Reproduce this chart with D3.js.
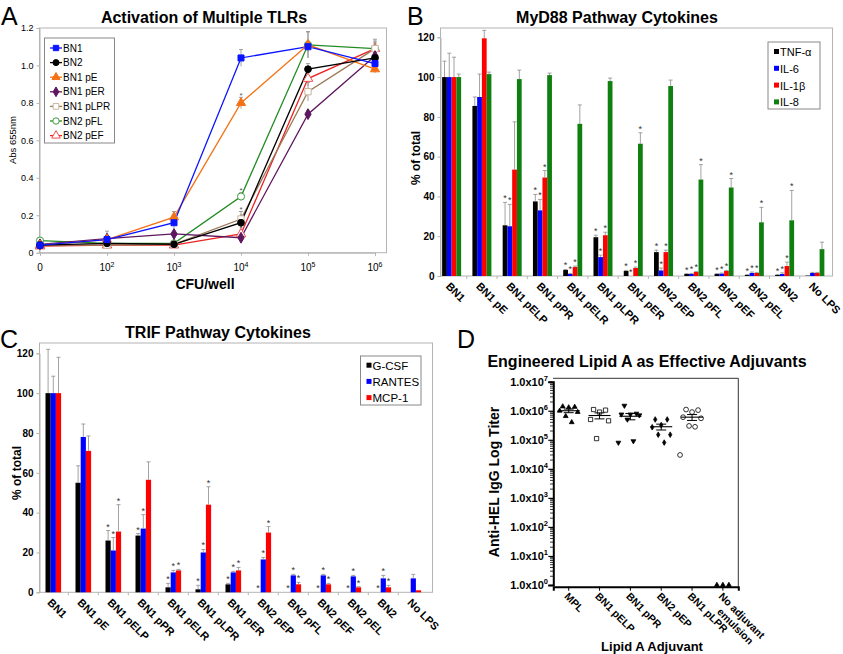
<!DOCTYPE html>
<html><head><meta charset="utf-8">
<script src="https://cdn.jsdelivr.net/npm/d3@7/dist/d3.min.js"></script>
<style>
body{margin:0;background:#fff;}
svg text{font-family:"Liberation Sans",Arial,Helvetica,sans-serif;}
</style></head><body>
<svg id="fig" width="843" height="654"></svg>
<script>
// ================= DATA =================
// Panel A: Activation of Multiple TLRs
const doseLabels = ["0","10^2","10^3","10^4","10^5","10^6"];
const aYTicks = [0,0.2,0.4,0.6,0.8,1.0,1.2];
const tlrNames = ["BN1","BN2","BN1 pE","BN1 pER","BN1 pLPR","BN2 pFL","BN2 pEF"];
const absBN1    = [0.04,0.07,0.16,1.04,1.10,1.01];
const absBN2    = [0.04,0.05,0.045,0.16,0.98,1.04];
const absBN1pE  = [0.04,0.07,0.19,0.80,1.11,0.98];
const absBN1pER = [0.045,0.075,0.10,0.08,0.74,1.05];
const absBN1pLPR= [0.04,0.04,0.045,0.18,0.86,1.09];
const absBN2pFL = [0.065,0.05,0.05,0.30,1.11,1.09];
const absBN2pEF = [0.035,0.04,0.04,0.10,0.93,1.09];
const errBN1    = [0.005,0.045,0.03,0.045,0.03,0.03];
const errBN2    = [0.005,0.01,0.005,0.02,0.03,0.03];
const errBN1pE  = [0.005,0.01,0.03,0.03,0.07,0.02];
const errBN1pER = [0.005,0.01,0.005,0.01,0.02,0.02];
const errBN1pLPR= [0.005,0.01,0.005,0.04,0.05,0.05];
const errBN2pFL = [0.005,0.01,0.005,0.02,0.07,0.03];
const errBN2pEF = [0.005,0.01,0.005,0.02,0.04,0.04];
const sigBN1pE  = [0,0,0,1,0,0];
const sigBN2    = [0,0,0,1,0,0];
const sigBN1pLPR= [0,0,0,1,0,0];
const sigBN2pFL = [0,0,0,1,0,0];
const sigBN2pEF = [0,0,0,1,0,0];

// Panels B & C categories
const strains = ["BN1","BN1 pE","BN1 pELP","BN1 pPR","BN1 pELR","BN1 pLPR","BN1 pER","BN2 pEP","BN2 pFL","BN2 pEF","BN2 pEL","BN2","No LPS"];
const pctTicks = [0,20,40,60,80,100,120];

// Panel B: MyD88 Pathway Cytokines (% of total)
const myd88Names = ["TNF-α","IL-6","IL-1β","IL-8"];
const tnf     = [100,85.5,25.5,37.5,3,19.5,2.5,12,1,1,0.5,0.5,0.2];
const tnfErr  = [8,4.5,11.5,3.5,0.3,1,0.3,1,0.2,0.2,0.2,0.2,0];
const il6     = [100,90,25,33,1,9.5,0,2.8,1,1.2,1.5,1,1.5];
const il6Err  = [12,11.5,11,5.5,0.3,1,0,1.2,0.3,0.3,0.5,0.6,0.3];
const il1b    = [100,119.5,53.5,49.5,4.5,20.5,4,12,2,2.5,1.5,5,1.5];
const il1bErr = [10,4,24,3.5,0.5,1.5,0.5,1,0.3,0.3,0.3,2,0.3];
const il8     = [100,101.5,99,101,76.5,98,66.5,95.5,48.5,44.5,27,28,13.5];
const il8Err  = [1.5,1,4.5,1,9.5,1.5,5.5,3,7.5,4.5,7.5,15,3.5];
const tnfSig  = [0,0,1,1,1,1,1,1,1,1,1,1,0];
const il6Sig  = [0,0,1,1,1,1,1,1,1,1,1,1,0];
const il1bSig = [0,0,0,1,1,1,1,1,1,1,1,1,0];
const il8Sig  = [0,0,0,0,0,0,1,0,1,1,1,1,0];

// Panel C: TRIF Pathway Cytokines (% of total)
const trifNames = ["G-CSF","RANTES","MCP-1"];
const gcsf      = [100,55,26,28.5,2.5,1.5,4,0,0,0,0,0,0];
const gcsfErr   = [22,8.5,5,1,2,2,0.5,0,0,0,0,0,0];
const rantes    = [100,78,21,32,10,20,10,16.5,8.5,8.5,8,7,7];
const rantesErr = [8.5,6.5,6.5,7,1,1.5,0.5,1,0.5,0.5,0.5,1.5,2];
const mcp1      = [100,71,30.5,56.5,11,44,11,30,4,4,2.5,2.5,1];
const mcp1Err   = [18,7.5,13.5,9,0.5,9,1.5,3,1,0.5,0.3,1,0];
const gcsfSig   = [0,0,1,1,1,1,1,1,1,1,1,1,0];
const rantesSig = [0,0,1,1,1,1,1,1,1,1,1,1,0];
const mcp1Sig   = [0,0,1,0,1,1,1,1,1,1,1,1,0];

// Panel D: Engineered Lipid A as Effective Adjuvants (anti-HEL IgG titer)
const adjuvants = ["MPL","BN1 pELP","BN1 pPR","BN2 pEP","BN1 pLPR","No adjuvant emulsion"];
const titerTicks = [1,10,100,1000,1e4,1e5,1e6,1e7];
const titerMPL   = [1.4e6,1.35e6,1.3e6,1.0e6,9e5,6.5e5,4e5];
const titerELP   = [1.1e6,1.05e6,9e5,5e5,4.5e5,1.1e5];
const titerPR    = [1.5e6,8e5,7.5e5,7.5e5,7e5,5e5,9e4,8e4];
const titerEP    = [5e5,5e5,3.2e5,2.7e5,1.5e5,1.5e5,8e4];
const titerLPR   = [1.1e6,1.05e6,9e5,6e5,5.5e5,3e5,2.8e5,3e4];
const titerNone  = [1,1,1];

// ================= DRAW =================
const svg = d3.select("#fig");
svg.append("rect").attr("width",843).attr("height",654).attr("fill","#fff");
const FONT = '"Liberation Sans",Arial,Helvetica,sans-serif';
const GRID = "#b4b4b4";
const ERRC = "#8c8c8c";

function styleAxis(g, size, weight){
  g.select(".domain").attr("stroke",GRID);
  g.selectAll(".tick line").attr("stroke",GRID);
  g.selectAll(".tick text").attr("font-family",FONT).attr("font-size",size).attr("font-weight",weight||"normal").attr("fill","#000");
}
function panelLetter(x,y,t){
  svg.append("text").attr("x",x).attr("y",y).attr("font-size",25).text(t);
}
function title(x,y,t){
  svg.append("text").attr("x",x).attr("y",y).attr("text-anchor","middle").attr("font-size",16).attr("font-weight","bold").text(t);
}

// ---------- Panel A ----------
panelLetter(1,25,"A");
title(204,23,"Activation of Multiple TLRs");
const aX = d3.scalePoint().domain(doseLabels).range([40,375]);
const aY = d3.scaleLinear().domain([0,1.2]).range([252.7,28]);
const gA = svg.append("g");
gA.append("rect").attr("x",39.5).attr("y",28).attr("width",347).attr("height",224.7).attr("fill","none").attr("stroke",GRID);
gA.append("g").attr("transform","translate(39.5,0)")
  .call(d3.axisLeft(aY).tickValues(aYTicks).tickSize(3).tickPadding(3).tickFormat(d=>d===0?"0":d.toFixed(1)))
  .call(g=>styleAxis(g,9));
gA.append("g").attr("transform","translate(0,252.7)")
  .call(d3.axisBottom(aX).tickSize(3).tickFormat(""))
  .call(g=>styleAxis(g,9));
doseLabels.forEach(d=>{
  const parts = d.split("^");
  const t = gA.append("text").attr("x",aX(d)).attr("y",271).attr("text-anchor","middle").attr("font-size",10);
  t.append("tspan").text(parts[0]);
  if(parts[1]) t.append("tspan").attr("dy",-4).attr("font-size",7).text(parts[1]);
});
gA.append("text").attr("x",205).attr("y",289).attr("text-anchor","middle").attr("font-size",14).attr("font-weight","bold").text("CFU/well");
gA.append("text").attr("transform","translate(16,140) rotate(-90)").attr("text-anchor","middle").attr("font-size",9.5).text("Abs 655nm");

const aSeries = [
  {name:tlrNames[0], v:absBN1,     e:errBN1,     s:null,       color:"#0a14ff", sym:d3.symbolSquare,   size:36, fill:"#0a14ff", stroke:"#0a14ff"},
  {name:tlrNames[1], v:absBN2,     e:errBN2,     s:sigBN2,     color:"#000000", sym:d3.symbolCircle,   size:36, fill:"#000",    stroke:"#000"},
  {name:tlrNames[2], v:absBN1pE,   e:errBN1pE,   s:sigBN1pE,   color:"#f47216", sym:d3.symbolTriangle, size:36, fill:"#f47216", stroke:"#f47216"},
  {name:tlrNames[3], v:absBN1pER,  e:errBN1pER,  s:null,       color:"#5e165e", sym:d3.symbolDiamond,  size:34, fill:"#5e165e", stroke:"#5e165e"},
  {name:tlrNames[4], v:absBN1pLPR, e:errBN1pLPR, s:sigBN1pLPR, color:"#9a7a58", sym:d3.symbolSquare,   size:40, fill:"#fff",    stroke:"#c9b79f"},
  {name:tlrNames[5], v:absBN2pFL,  e:errBN2pFL,  s:sigBN2pFL,  color:"#228b22", sym:d3.symbolCircle,   size:40, fill:"#fff",    stroke:"#3c9a3c"},
  {name:tlrNames[6], v:absBN2pEF,  e:errBN2pEF,  s:sigBN2pEF,  color:"#ee2222", sym:d3.symbolTriangle, size:40, fill:"#fff",    stroke:"#ee5050"}
];
const aLine = d3.line().x((d,i)=>aX(doseLabels[i])).y(d=>aY(d));
// error bars
aSeries.forEach(s=>{
  s.v.forEach((v,i)=>{
    const x = aX(doseLabels[i]);
    const y1 = aY(v+s.e[i]), y2 = aY(v-s.e[i]);
    gA.append("line").attr("x1",x).attr("x2",x).attr("y1",y1).attr("y2",y2).attr("stroke",ERRC).attr("stroke-width",0.8);
    gA.append("line").attr("x1",x-2).attr("x2",x+2).attr("y1",y1).attr("y2",y1).attr("stroke",ERRC).attr("stroke-width",0.8);
    if(s.s && s.s[i]){
      gA.append("text").attr("x",x).attr("y",aY(v+s.e[i]+0.025)+5).attr("text-anchor","middle").attr("font-size",8).attr("fill","#555").text("*");
    }
  });
});
aSeries.slice().reverse().forEach(s=>{
  gA.append("path").attr("d",aLine(s.v)).attr("fill","none").attr("stroke",s.color).attr("stroke-width",1.3);
});
aSeries.slice().reverse().forEach(s=>{
  s.v.forEach((v,i)=>{
    gA.append("path").attr("d",d3.symbol().type(s.sym).size(s.size)())
      .attr("transform",`translate(${aX(doseLabels[i])},${aY(v)})`)
      .attr("fill",s.fill).attr("stroke",s.stroke).attr("stroke-width",1);
  });
});
// legend A
const legA = gA.append("g");
legA.append("rect").attr("x",44.5).attr("y",38).attr("width",70).attr("height",105).attr("fill","#fff").attr("stroke","#888");
aSeries.forEach((s,i)=>{
  const y = 48 + i*14.6;
  legA.append("line").attr("x1",50).attr("x2",62).attr("y1",y).attr("y2",y).attr("stroke",s.color).attr("stroke-width",1.3);
  legA.append("path").attr("d",d3.symbol().type(s.sym).size(s.size*0.8)()).attr("transform",`translate(56,${y})`)
    .attr("fill",s.fill).attr("stroke",s.stroke);
  legA.append("text").attr("x",63).attr("y",y+3.5).attr("font-size",10).text(s.name);
});

// ---------- Bar chart helper ----------
function barPanel(cfg){
  const g = svg.append("g");
  const xB = d3.scaleBand().domain(strains).range(cfg.bandRange);
  const yB = d3.scaleLinear().domain([0,120]).range([cfg.y0,cfg.y120]);
  const inner = d3.scaleBand().domain(cfg.series.map(s=>s.name)).range([-cfg.groupW/2,cfg.groupW/2]).padding(0);
  g.append("rect").attr("x",cfg.left+0.5).attr("y",cfg.top).attr("width",cfg.right-cfg.left).attr("height",cfg.y0-cfg.top).attr("fill","none").attr("stroke",GRID);
  g.append("g").attr("transform",`translate(${cfg.left+0.5},0)`)
    .call(d3.axisLeft(yB).tickValues(pctTicks).tickSize(3).tickPadding(3))
    .call(a=>styleAxis(a,10,"bold"));
  // category boundary ticks
  strains.forEach((c,i)=>{
    if(i===0) return;
    const x = xB(c);
    g.append("line").attr("x1",x).attr("x2",x).attr("y1",cfg.y0).attr("y2",cfg.y0+3).attr("stroke",GRID);
  });
  const bw = inner.bandwidth();
  cfg.series.forEach(s=>{
    strains.forEach((c,i)=>{
      const cx = xB(c)+xB.bandwidth()/2 + inner(s.name);
      const v = s.v[i];
      g.append("rect").attr("x",cx).attr("width",bw).attr("y",yB(v)).attr("height",Math.max(0,cfg.y0-yB(v))).attr("fill",s.color);
      const xm = cx+bw/2;
      const top = yB(v+s.e[i]);
      if(s.e[i]>0){
        g.append("line").attr("x1",xm).attr("x2",xm).attr("y1",yB(v)).attr("y2",top).attr("stroke",ERRC).attr("stroke-width",0.8);
        g.append("line").attr("x1",xm-2).attr("x2",xm+2).attr("y1",top).attr("y2",top).attr("stroke",ERRC).attr("stroke-width",0.8);
      }
      if(s.sig[i]){
        g.append("text").attr("x",xm).attr("y",top-1).attr("text-anchor","middle").attr("font-size",9).attr("fill","#333").text("*");
      }
    });
  });
  // x labels
  strains.forEach(c=>{
    const x = xB(c)+xB.bandwidth()/2 - 6.5;
    g.append("text").attr("transform",`translate(${x},${cfg.y0+11}) rotate(45)`).attr("font-size",11).attr("font-weight","bold").text(c);
  });
  // y label
  g.append("text").attr("transform",`translate(${cfg.ylabX},${cfg.ylabY}) rotate(-90)`).attr("text-anchor","middle")
    .attr("font-size",12).attr("font-weight","bold").text("% of total");
  // legend
  const L = cfg.legend;
  g.append("rect").attr("x",L.x).attr("y",L.y).attr("width",L.w).attr("height",L.h).attr("fill","#fff").attr("stroke","#888");
  cfg.series.forEach((s,i)=>{
    const y = L.y + L.first + i*L.step;
    g.append("rect").attr("x",L.x+6).attr("y",y-3).attr("width",5).attr("height",5).attr("fill",s.color);
    g.append("text").attr("x",L.x+12).attr("y",y+4).attr("font-size",L.fs).text(s.name);
  });
}

// ---------- Panel B ----------
panelLetter(407,25,"B");
title(617,23,"MyD88 Pathway Cytokines");
barPanel({
  bandRange:[436.5,830], y0:276, y120:37.3, top:28, left:440, right:832, groupW:19,
  ylabX:420, ylabY:158,
  series:[
    {name:myd88Names[0], v:tnf,  e:tnfErr,  sig:tnfSig,  color:"#000000"},
    {name:myd88Names[1], v:il6,  e:il6Err,  sig:il6Sig,  color:"#0000ff"},
    {name:myd88Names[2], v:il1b, e:il1bErr, sig:il1bSig, color:"#ff0000"},
    {name:myd88Names[3], v:il8,  e:il8Err,  sig:il8Sig,  color:"#0f7f0f"}
  ],
  legend:{x:768,y:42,w:52,h:67,first:10,step:16.8,fs:11}
});

// ---------- Panel C ----------
panelLetter(0,348,"C");
title(218,338,"TRIF Pathway Cytokines");
barPanel({
  bandRange:[38.3,428.3], y0:592.3, y120:353.3, top:343, left:39, right:432, groupW:15.6,
  ylabX:21, ylabY:473,
  series:[
    {name:trifNames[0], v:gcsf,   e:gcsfErr,   sig:gcsfSig,   color:"#000000"},
    {name:trifNames[1], v:rantes, e:rantesErr, sig:rantesSig, color:"#0000ff"},
    {name:trifNames[2], v:mcp1,   e:mcp1Err,   sig:mcp1Sig,   color:"#ff0000"}
  ],
  legend:{x:360.5,y:356,w:60.5,h:49,first:9.7,step:16.2,fs:11.5}
});

// ---------- Panel D ----------
panelLetter(457,348,"D");
title(647,367,"Engineered Lipid A as Effective Adjuvants");
const dX = d3.scaleBand().domain(adjuvants).range([553.3,738.3]);
const dY = d3.scaleLog().domain([1,1e7]).range([585,381.7]);
const gD = svg.append("g");
// frame top & right
gD.append("line").attr("x1",553).attr("x2",738.3).attr("y1",378.3).attr("y2",378.3).attr("stroke","#333");
gD.append("line").attr("x1",738.3).attr("x2",738.3).attr("y1",378.3).attr("y2",586.7).attr("stroke","#333");
// minor ticks
for(let e=0;e<7;e++){
  for(let m=2;m<=9;m++){
    const y = dY(m*Math.pow(10,e));
    gD.append("line").attr("x1",550).attr("x2",553).attr("y1",y).attr("y2",y).attr("stroke","#000").attr("stroke-width",0.8);
  }
}
gD.append("g").attr("transform","translate(553.3,0)")
  .call(d3.axisLeft(dY).tickValues(titerTicks).tickSize(5).tickPadding(3).tickFormat(""))
  .call(g=>{g.select(".domain").attr("stroke","#000").attr("stroke-width",2); g.selectAll(".tick line").attr("stroke","#000").attr("stroke-width",1.2);});
titerTicks.forEach(t=>{
  const t0 = gD.append("text").attr("x",548).attr("y",dY(t)+4).attr("text-anchor","end").attr("font-size",11).attr("font-weight","bold");
  t0.append("tspan").text("1.0x10");
  t0.append("tspan").attr("dy",-5).attr("font-size",7.5).text(String(Math.round(Math.log10(t))));
});
gD.append("g").attr("transform","translate(0,586.7)")
  .call(d3.axisBottom(dX).tickSize(4).tickFormat(""))
  .call(g=>{g.select(".domain").attr("stroke","#000").attr("stroke-width",2); g.selectAll(".tick line").attr("stroke","#000");});
adjuvants.forEach(a=>{
  const x = dX(a)+dX.bandwidth()/2 - 5;
  const t = gD.append("text").attr("transform",`translate(${x},597) rotate(45)`).attr("font-size",10.5).attr("font-weight","bold");
  const words = a.split(" ");
  if(words.length===3 && words[0]==="No"){
    t.append("tspan").attr("x",0).text(words[0]+" "+words[1]);
    t.append("tspan").attr("x",10).attr("dy","1.15em").text(words[2]);
  } else t.text(a);
});
gD.append("text").attr("x",652).attr("y",651).attr("text-anchor","middle").attr("font-size",13).attr("font-weight","bold").text("Lipid A Adjuvant");
gD.append("text").attr("transform","translate(499,482) rotate(-90)").attr("text-anchor","middle").attr("font-size",14).attr("font-weight","bold").text("Anti-HEL IgG Log Titer");

const dGroups = [
  {v:titerMPL,  sym:d3.symbolTriangle, size:10, fill:"#000", stroke:"#000", rot:0},
  {v:titerELP,  sym:d3.symbolSquare,   size:18, fill:"#fff", stroke:"#000", rot:0},
  {v:titerPR,   sym:d3.symbolTriangle, size:10, fill:"#000", stroke:"#000", rot:180},
  {v:titerEP,   sym:d3.symbolDiamond,  size:9,  fill:"#000", stroke:"#000", rot:0},
  {v:titerLPR,  sym:d3.symbolCircle,   size:18, fill:"#fff", stroke:"#000", rot:0},
  {v:titerNone, sym:d3.symbolTriangle, size:10, fill:"#000", stroke:"#000", rot:0}
];
const jit = [-6,6,0,-9,9,-3,3,-12,12];
dGroups.forEach((gr,gi)=>{
  const cx = dX(adjuvants[gi])+dX.bandwidth()/2;
  gr.v.forEach((v,i)=>{
    gD.append("path").attr("d",d3.symbol().type(gr.sym).size(gr.size)())
      .attr("transform",`translate(${cx+jit[i%jit.length]},${dY(v)}) rotate(${gr.rot})`)
      .attr("fill",gr.fill).attr("stroke",gr.stroke).attr("stroke-width",0.8);
  });
  if(gi<5){
    const m = d3.mean(gr.v);
    const sem = d3.deviation(gr.v)/Math.sqrt(gr.v.length);
    gD.append("line").attr("x1",cx-11).attr("x2",cx+11).attr("y1",dY(m)).attr("y2",dY(m)).attr("stroke","#000").attr("stroke-width",1.1);
    gD.append("line").attr("x1",cx).attr("x2",cx).attr("y1",dY(m+sem)).attr("y2",dY(m-sem)).attr("stroke","#000").attr("stroke-width",1);
    [m+sem,m-sem].forEach(b=>gD.append("line").attr("x1",cx-5).attr("x2",cx+5).attr("y1",dY(b)).attr("y2",dY(b)).attr("stroke","#000").attr("stroke-width",1));
  }
});
</script>
</body></html>
